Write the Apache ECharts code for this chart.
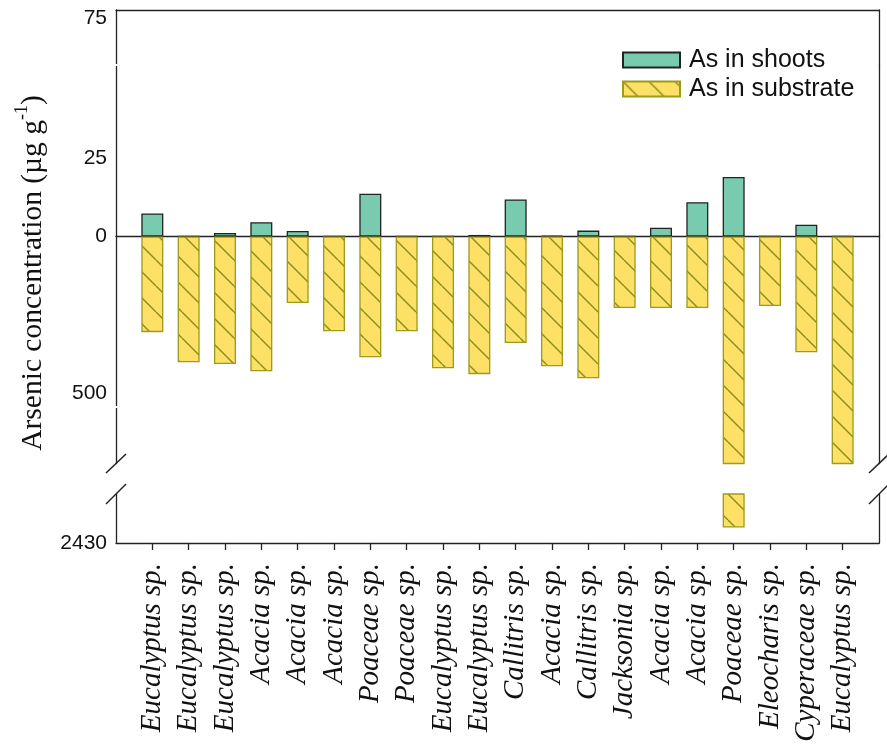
<!DOCTYPE html>
<html>
<head>
<meta charset="utf-8">
<script src="https://cdn.jsdelivr.net/npm/echarts@6/dist/echarts.min.js"></script>
<style>
  html, body { margin: 0; background: #fff; }
  #chart { width: 887px; height: 746px; }
</style>
</head>
<body>
<div id="chart"></div>
<script>
// species along the x axis
var species = ['Eucalyptus sp.', 'Eucalyptus sp.', 'Eucalyptus sp.', 'Acacia sp.', 'Acacia sp.',
  'Acacia sp.', 'Poaceae sp.', 'Poaceae sp.', 'Eucalyptus sp.', 'Eucalyptus sp.',
  'Callitris sp.', 'Acacia sp.', 'Callitris sp.', 'Jacksonia sp.', 'Acacia sp.',
  'Acacia sp.', 'Poaceae sp.', 'Eleocharis sp.', 'Cyperaceae sp.', 'Eucalyptus sp.'];
// As in shoots (ug/g), drawn upward
var shoots = [7.4, 0, 1.1, 4.6, 1.8, 0, 13.7, 0, 0, 0.5, 11.9, 0.3, 1.9, 0, 2.8, 11.0, 19.1, 0, 3.8, 0];
// As in substrate (ug/g), drawn downward
var substrate = [305, 401, 407, 430, 212, 302, 385, 302, 420, 439, 340, 414, 452, 228, 228, 228, 2400, 222, 369, 740];
// tick labels shown on each piece of the broken axis
var topTicks = [75];
var shootTicks = [25];
var substrateTicks = [0, 500];
var deepTicks = [2430];

var LINE = '#222';
var L = 116, R = 8;

// pad one empty slot at each end so bars sit one step in from the frame
function pad(a) { return ['-'].concat(a, ['-']); }
var cats = [''].concat(species, ['']);

// hatch for the substrate bars
function hatch() {
  var s = 26, c = document.createElement('canvas');
  c.width = s; c.height = s;
  var g = c.getContext('2d');
  g.fillStyle = '#fde166';
  g.fillRect(0, 0, s, s);
  g.strokeStyle = '#8d8a1e';
  g.lineWidth = 1.4;
  [-s, 0, s].forEach(function (k) {
    g.beginPath(); g.moveTo(k, 0); g.lineTo(k + s, s); g.stroke();
  });
  return c;
}
var yellow = { image: hatch(), repeat: 'repeat' };

var axisLine = { show: true, lineStyle: { color: LINE, width: 1.3 } };
var tickFont = {
  fontFamily: 'Liberation Sans, Arial', fontSize: 21, color: '#111', margin: 9,
  formatter: function (v) { return String(v); }
};

function xAx(grid, pos, line) {
  return {
    type: 'category', gridIndex: grid, position: pos, data: cats, boundaryGap: false,
    axisLine: line ? axisLine : { show: false },
    axisTick: { show: false }, axisLabel: { show: false }, splitLine: { show: false }
  };
}
function yAx(grid, pos, min, max, inv, ticks) {
  var o = {
    type: 'value', gridIndex: grid, position: pos, min: min, max: max, inverse: !!inv,
    axisLine: axisLine, axisTick: { show: false }, splitLine: { show: false },
    axisLabel: { show: false }
  };
  if (ticks) o.axisLabel = Object.assign({ show: true, customValues: ticks }, tickFont);
  return o;
}

var myChart = echarts.init(document.getElementById('chart'));
var option = {
  animation: false,
  backgroundColor: '#fff',
  grid: [
    { left: L, right: R, top: 10, height: 55, outerBoundsMode: 'none' },     // 60 - 77.6
    { left: L, right: R, top: 65, height: 171.5, outerBoundsMode: 'none' },  // 0 - 55
    { left: L, right: R, top: 236.5, height: 227, outerBoundsMode: 'none' }, // substrate 0 - 724
    { left: L, right: R, top: 494, height: 49, outerBoundsMode: 'none' }     // substrate 2335 - 2430
  ],
  xAxis: [
    xAx(0, 'top', true),
    xAx(1, 'bottom', true),
    xAx(2, 'bottom', false),
    {
      type: 'category', gridIndex: 3, position: 'bottom', data: cats, boundaryGap: false,
      axisLine: axisLine,
      axisTick: {
        show: true, length: 7, lineStyle: { color: LINE, width: 1.3 },
        interval: function (i) { return i > 0 && i < cats.length - 1; }
      },
      axisLabel: {
        interval: 0, rotate: 90, margin: 20, color: '#111',
        fontFamily: 'Liberation Serif, Times New Roman', fontStyle: 'italic', fontSize: 29
      },
      splitLine: { show: false }
    }
  ],
  yAxis: [
    yAx(0, 'left', 60, 77.64, false, topTicks),
    yAx(0, 'right', 60, 77.64),
    yAx(1, 'left', 0, 55, false, shootTicks),
    yAx(1, 'right', 0, 55),
    yAx(2, 'left', 0, 724, true, substrateTicks),
    yAx(2, 'right', 0, 724, true),
    yAx(3, 'left', 2335, 2430, true, deepTicks),
    yAx(3, 'right', 2335, 2430, true)
  ],
  legend: {
    data: ['As in shoots', 'As in substrate'],
    orient: 'vertical', left: 617, top: 42,
    icon: 'rect', itemWidth: 57, itemHeight: 15, itemGap: 3,
    textStyle: { fontFamily: 'Liberation Sans, Arial', fontSize: 25, lineHeight: 26, color: '#111', padding: [0, 0, 0, 4] }
  },
  series: [
    {
      name: 'As in shoots', type: 'bar', xAxisIndex: 1, yAxisIndex: 2, barWidth: 22,
      data: pad(shoots), itemStyle: { color: '#79cbb0', borderColor: LINE, borderWidth: 1.3 }
    },
    {
      name: 'As in substrate', type: 'bar', xAxisIndex: 2, yAxisIndex: 4, barWidth: 22,
      data: pad(substrate), itemStyle: { color: yellow, borderColor: '#9e9a1c', borderWidth: 1.3 }
    },
    {
      name: 'As in substrate', type: 'bar', xAxisIndex: 3, yAxisIndex: 6, barWidth: 22,
      data: pad(substrate), itemStyle: { color: yellow, borderColor: '#9e9a1c', borderWidth: 1.3 }
    }
  ],
  graphic: [
    {
      type: 'text', x: 33, y: 273, rotation: Math.PI / 2,
      style: {
        text: 'Arsenic concentration (µg g{sup|-1})',
        align: 'center', verticalAlign: 'middle',
        fontFamily: 'Liberation Serif, Times New Roman', fontSize: 29.5, fill: '#111',
        rich: { sup: { fontSize: 18, fontFamily: 'Liberation Serif', padding: [0, 0, 22, 0] } }
      }
    },
    // axis break marks
    { type: 'line', shape: { x1: 106, y1: 473, x2: 126, y2: 454 }, style: { stroke: LINE, lineWidth: 1.5 } },
    { type: 'line', shape: { x1: 106, y1: 504, x2: 126, y2: 484 }, style: { stroke: LINE, lineWidth: 1.5 } },
    { type: 'line', shape: { x1: 869, y1: 473, x2: 889, y2: 454 }, style: { stroke: LINE, lineWidth: 1.5 } },
    { type: 'line', shape: { x1: 869, y1: 504, x2: 889, y2: 484 }, style: { stroke: LINE, lineWidth: 1.5 } },
    // small gaps in the left axis line
    { type: 'rect', shape: { x: 113, y: 64, width: 6, height: 2 }, style: { fill: '#fff' }, z: 100 },
    { type: 'rect', shape: { x: 113, y: 406, width: 6, height: 2 }, style: { fill: '#fff' }, z: 100 }
  ]
};
myChart.setOption(option);
</script>
</body>
</html>
